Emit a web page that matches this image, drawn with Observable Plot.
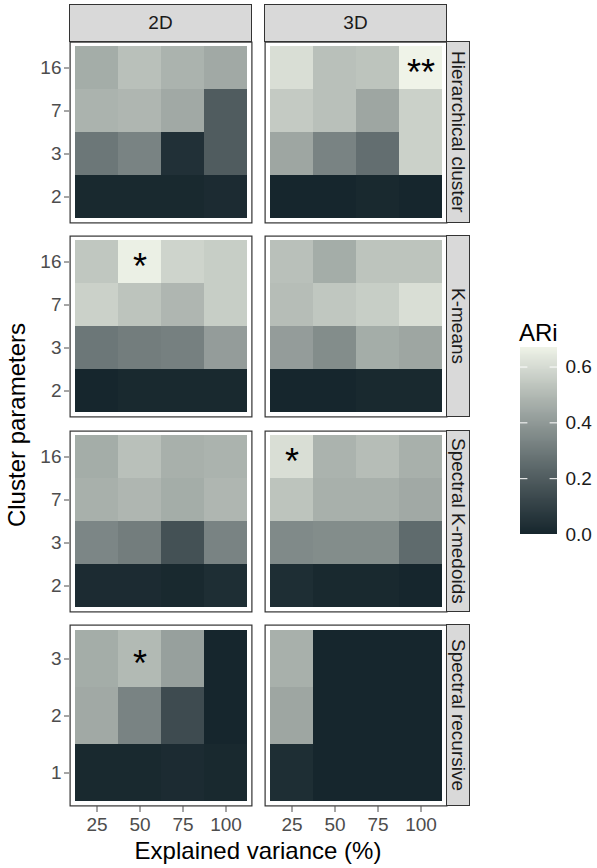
<!DOCTYPE html>
<html><head><meta charset="utf-8">
<script src="https://cdn.jsdelivr.net/npm/d3@7"></script>
<script src="https://cdn.jsdelivr.net/npm/@observablehq/plot@0.6"></script>
<style>
html,body{margin:0;padding:0;background:#fff;}
#chart{position:relative;width:597px;height:868px;font-family:"Liberation Sans",Arial,sans-serif;background:#fff;overflow:hidden;}
.abs{position:absolute;}
.strip{position:absolute;box-sizing:border-box;background:#d9d9d9;border:1px solid #333;color:#1a1a1a;font-size:19px;display:flex;align-items:center;justify-content:center;white-space:nowrap;}
.strip.row{writing-mode:vertical-rl;}
.title{position:absolute;color:#000;font-size:24px;line-height:1;white-space:nowrap;}
</style></head><body><div id="chart"></div><script>
// ---- data ----
const dims = ["2D", "3D"];
const methods = ["Hierarchical cluster", "K-means", "Spectral K-medoids", "Spectral recursive"];
const variance = [25, 50, 75, 100];
const paramsMain = ["2", "3", "7", "16"];
const paramsRecursive = ["1", "2", "3"];
// ARi: rows = cluster parameter (low -> high), columns = explained variance 25, 50, 75, 100
const hierarchical2D = [[0.01, 0.01, 0.01, 0.02], [0.29, 0.33, 0.04, 0.20], [0.48, 0.49, 0.45, 0.20], [0.46, 0.52, 0.48, 0.45]];
const hierarchical3D = [[0.00, 0.00, 0.01, 0.00], [0.44, 0.33, 0.26, 0.57], [0.55, 0.52, 0.44, 0.57], [0.61, 0.52, 0.53, 0.67]];
const kmeans2D = [[0.00, 0.01, 0.01, 0.01], [0.29, 0.31, 0.32, 0.41], [0.57, 0.53, 0.49, 0.56], [0.54, 0.66, 0.58, 0.56]];
const kmeans3D = [[0.00, 0.00, 0.01, 0.01], [0.41, 0.36, 0.46, 0.44], [0.51, 0.54, 0.56, 0.61], [0.52, 0.46, 0.53, 0.53]];
const kmedoids2D = [[0.02, 0.02, 0.01, 0.03], [0.34, 0.31, 0.16, 0.33], [0.47, 0.49, 0.46, 0.49], [0.46, 0.52, 0.47, 0.48]];
const kmedoids3D = [[0.03, 0.01, 0.01, 0.00], [0.35, 0.36, 0.36, 0.25], [0.53, 0.47, 0.47, 0.45], [0.61, 0.48, 0.51, 0.47]];
const recursive2D = [[0.01, 0.01, 0.02, 0.01], [0.45, 0.33, 0.14, 0.00], [0.46, 0.50, 0.42, 0.00]];
const recursive3D = [[0.03, 0.00, 0.00, 0.00], [0.44, 0.00, 0.00, 0.00], [0.47, 0.00, 0.00, 0.00]];
const starMethod = ["Hierarchical cluster", "K-means", "Spectral K-medoids", "Spectral recursive"];
const starDim = ["3D", "2D", "3D", "2D"];
const starVariance = [100, 50, 25, 50];
const starParam = ["16", "16", "16", "3"];
const starLabel = ["**", "*", "*", "*"];
const legendTicks = [0, 0.2, 0.4, 0.6];

// ---- build tables ----
const grids = {
  "Hierarchical cluster": {"2D": hierarchical2D, "3D": hierarchical3D},
  "K-means": {"2D": kmeans2D, "3D": kmeans3D},
  "Spectral K-medoids": {"2D": kmedoids2D, "3D": kmedoids3D},
  "Spectral recursive": {"2D": recursive2D, "3D": recursive3D}
};
const paramsOf = m => m === "Spectral recursive" ? paramsRecursive : paramsMain;
const table = [];
for (const m of methods) for (const d of dims) {
  const ps = paramsOf(m);
  grids[m][d].forEach((row, i) => row.forEach((v, j) => table.push({method: m, dim: d, param: ps[i], variance: variance[j], ari: v})));
}
const stars = starMethod.map((m, i) => ({method: m, dim: starDim[i], variance: starVariance[i], param: starParam[i], label: starLabel[i]}));
const maxV = d3.max(table, d => d.ari);
const colorScale = {type: "linear", domain: [0, maxV], range: ["#16262d", "#eff3e8"], interpolate: "lab"};

// ---- layout ----
const chart = document.getElementById("chart");
const colLeft = [69, 264], panelW = 183, panelH = 182;
const rowTop = methods.map((_, r) => 41 + r * 194.33);
const font = '"Liberation Sans", Arial, sans-serif';

function add(el, left, top) {
  el.style.position = "absolute"; el.style.left = left + "px"; el.style.top = top + "px";
  chart.appendChild(el);
}

methods.forEach((m, r) => {
  const ps = paramsOf(m);
  dims.forEach((d, c) => {
    const ml = c === 0 ? 69 : 0;
    const mb = r === methods.length - 1 ? 62 : 0;
    const gx = 4, gy = 4.5;
    const pxOuter = gx * 4 / (panelW - 2 * gx);
    const pyOuter = gy * ps.length / (panelH - 2 * gy);
    const marks = [
      Plot.cell(table.filter(t => t.method === m && t.dim === d), {x: "variance", y: "param", fill: "ari", inset: 0, shapeRendering: "crispEdges"}),
      Plot.text(stars.filter(s => s.method === m && s.dim === d), {x: "variance", y: "param", text: "label", fontSize: 36, fill: "black", dy: 5}),
      Plot.frame({stroke: "#333", strokeWidth: 1.2, inset: 0.6})
    ];
    if (c === 0) marks.push(Plot.axisY({tickSize: 5, tickPadding: 3, fontSize: 19, label: null}));
    if (mb) marks.push(Plot.axisX({tickSize: 6, tickPadding: 5, fontSize: 19, label: null}));
    const p = Plot.plot({
      width: ml + panelW, height: panelH + mb,
      marginLeft: ml, marginRight: 0, marginTop: 0, marginBottom: mb,
      style: {color: "#4d4d4d", fontFamily: font, background: "transparent", overflow: "visible"},
      x: {type: "band", domain: variance, paddingInner: 0, paddingOuter: pxOuter, axis: null},
      y: {type: "band", domain: ps.slice().reverse(), paddingInner: 0, paddingOuter: pyOuter, axis: null},
      color: colorScale,
      marks
    });
    add(p, colLeft[c] - ml, rowTop[r]);
  });
  // row strip
  const s = document.createElement("div");
  s.className = "strip row"; s.textContent = m;
  s.style.width = "24px"; s.style.height = panelH + "px";
  add(s, colLeft[1] + panelW - 1, rowTop[r]);
});
dims.forEach((d, c) => {
  const s = document.createElement("div");
  s.className = "strip"; s.textContent = d;
  s.style.width = panelW + "px"; s.style.height = "38px";
  add(s, colLeft[c], 4);
});

// axis titles
const xt = document.createElement("div");
xt.className = "title"; xt.textContent = "Explained variance (%)";
xt.style.transform = "translateX(-50%)";
add(xt, 258, 839);
const yt = document.createElement("div");
yt.className = "title"; yt.textContent = "Cluster parameters";
yt.style.transform = "translate(-50%,-50%) rotate(-90deg)";
add(yt, 17, 425);

// legend
const lt = document.createElement("div");
lt.className = "title"; lt.textContent = "ARi";
add(lt, 519, 321);
const N = 200;
const slices = d3.range(N);
const legend = Plot.plot({
  width: 77, height: 209, marginLeft: 0, marginRight: 40, marginTop: 10, marginBottom: 12,
  style: {color: "#1a1a1a", fontFamily: font, background: "transparent", overflow: "visible"},
  x: {type: "linear", domain: [0, 1], axis: null},
  y: {type: "linear", domain: [0, maxV], axis: null},
  color: colorScale,
  marks: [
    Plot.rect(slices, {x1: 0, x2: 1, y1: i => i * maxV / N, y2: i => (i + 1) * maxV / N, fill: i => (i + 0.5) * maxV / N, inset: 0, shapeRendering: "crispEdges"}),
    Plot.ruleY(legendTicks, {x1: 0, x2: 0.2, stroke: "white", strokeWidth: 1}),
    Plot.ruleY(legendTicks, {x1: 0.8, x2: 1, stroke: "white", strokeWidth: 1}),
    Plot.axisY({anchor: "right", ticks: legendTicks, tickSize: 0, tickPadding: 8, fontSize: 19, tickFormat: d3.format(".1f"), label: null})
  ]
});
add(legend, 520, 337);
</script></body></html>
